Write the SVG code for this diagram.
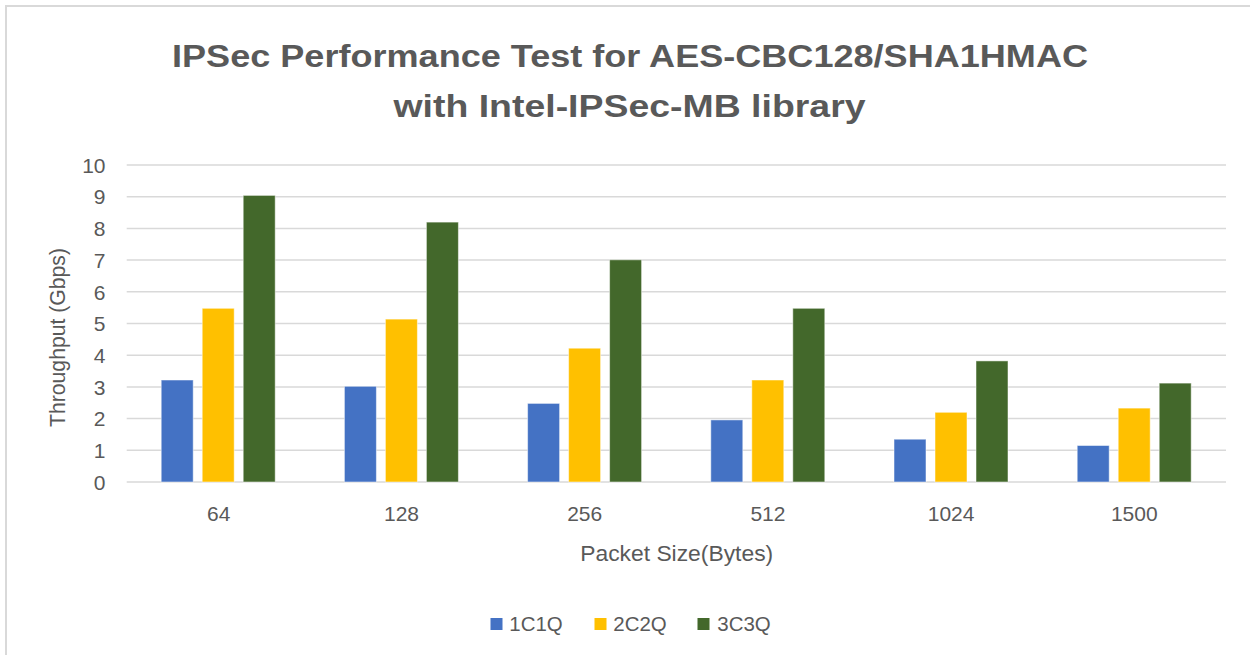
<svg xmlns="http://www.w3.org/2000/svg" width="1250" height="655" viewBox="0 0 1250 655">
<style>
.t{font-family:"Liberation Sans",Arial,sans-serif;fill:#595959}
.title{font-size:32px;font-weight:bold;text-anchor:middle}
.tick{font-size:21px;text-anchor:end}
.cat{font-size:21px;text-anchor:middle}
.ax{font-size:22px;text-anchor:middle}
.leg{font-size:20px}
.grid line{stroke:#d9d9d9;stroke-width:1.5}
.b1{fill:#4472C4;stroke:#ffffff;stroke-width:1;stroke-opacity:0.5}
.b2{fill:#FFC000;stroke:#ffffff;stroke-width:1;stroke-opacity:0.5}
.b3{fill:#43682B;stroke:#ffffff;stroke-width:1;stroke-opacity:0.5}
</style>
<rect x="0" y="0" width="1250" height="655" fill="#ffffff"/>
<rect x="6" y="6" width="1260" height="670" fill="#ffffff" stroke="#d9d9d9" stroke-width="2"/>
<g id="title">
<text class="t title" x="630" y="67" textLength="916" lengthAdjust="spacingAndGlyphs">IPSec Performance Test for AES-CBC128/SHA1HMAC</text>
<text class="t title" x="629.5" y="117" textLength="472" lengthAdjust="spacingAndGlyphs">with Intel-IPSec-MB library</text>
</g>
<g id="grid" class="grid">
<line x1="126.7" y1="165" x2="1226" y2="165"/>
<line x1="126.7" y1="196.7" x2="1226" y2="196.7"/>
<line x1="126.7" y1="228.4" x2="1226" y2="228.4"/>
<line x1="126.7" y1="260.1" x2="1226" y2="260.1"/>
<line x1="126.7" y1="291.8" x2="1226" y2="291.8"/>
<line x1="126.7" y1="323.5" x2="1226" y2="323.5"/>
<line x1="126.7" y1="355.2" x2="1226" y2="355.2"/>
<line x1="126.7" y1="386.9" x2="1226" y2="386.9"/>
<line x1="126.7" y1="418.6" x2="1226" y2="418.6"/>
<line x1="126.7" y1="450.3" x2="1226" y2="450.3"/>
<line x1="126.7" y1="482" x2="1226" y2="482"/>
</g>
<g id="yticks">
<text class="t tick" x="105.5" y="172.7">10</text>
<text class="t tick" x="105.5" y="204.4">9</text>
<text class="t tick" x="105.5" y="236.1">8</text>
<text class="t tick" x="105.5" y="267.8">7</text>
<text class="t tick" x="105.5" y="299.5">6</text>
<text class="t tick" x="105.5" y="331.2">5</text>
<text class="t tick" x="105.5" y="362.9">4</text>
<text class="t tick" x="105.5" y="394.6">3</text>
<text class="t tick" x="105.5" y="426.3">2</text>
<text class="t tick" x="105.5" y="458">1</text>
<text class="t tick" x="105.5" y="489.7">0</text>
</g>
<g id="series-1C1Q">
<rect class="b1" x="161.2" y="380" width="32" height="102"/>
<rect class="b1" x="344.4" y="386.3" width="32" height="95.7"/>
<rect class="b1" x="527.6" y="403.4" width="32" height="78.6"/>
<rect class="b1" x="710.8" y="419.9" width="32" height="62.1"/>
<rect class="b1" x="894" y="439.2" width="32" height="42.8"/>
<rect class="b1" x="1077.2" y="445.5" width="32" height="36.5"/>
</g>
<g id="series-2C2Q">
<rect class="b2" x="202.2" y="308.3" width="32" height="173.7"/>
<rect class="b2" x="385.4" y="319.1" width="32" height="162.9"/>
<rect class="b2" x="568.6" y="348.2" width="32" height="133.8"/>
<rect class="b2" x="751.8" y="380" width="32" height="102"/>
<rect class="b2" x="935" y="412.3" width="32" height="69.7"/>
<rect class="b2" x="1118.2" y="408.1" width="32" height="73.9"/>
</g>
<g id="series-3C3Q">
<rect class="b3" x="243.2" y="195.4" width="32" height="286.6"/>
<rect class="b3" x="426.4" y="222.1" width="32" height="259.9"/>
<rect class="b3" x="609.6" y="259.8" width="32" height="222.2"/>
<rect class="b3" x="792.8" y="308.3" width="32" height="173.7"/>
<rect class="b3" x="976" y="360.9" width="32" height="121.1"/>
<rect class="b3" x="1159.2" y="383.1" width="32" height="98.9"/>
</g>
<g id="xticks">
<text class="t cat" x="218.8" y="521">64</text>
<text class="t cat" x="401.5" y="521">128</text>
<text class="t cat" x="584.7" y="521">256</text>
<text class="t cat" x="767.9" y="521">512</text>
<text class="t cat" x="951.1" y="521">1024</text>
<text class="t cat" x="1134.3" y="521">1500</text>
</g>
<g id="axis-titles">
<text class="t ax" x="676.7" y="561" textLength="193" lengthAdjust="spacingAndGlyphs">Packet Size(Bytes)</text>
<text class="t ax" transform="translate(65,337.5) rotate(-90)" x="0" y="0" textLength="179" lengthAdjust="spacingAndGlyphs">Throughput (Gbps)</text>
</g>
<g id="legend">
<rect x="490.5" y="618" width="12" height="12" fill="#4472C4"/>
<text class="t leg" x="509.3" y="630.7" textLength="53.4" lengthAdjust="spacingAndGlyphs">1C1Q</text>
<rect x="594.5" y="618" width="12" height="12" fill="#FFC000"/>
<text class="t leg" x="613.3" y="630.7" textLength="53.4" lengthAdjust="spacingAndGlyphs">2C2Q</text>
<rect x="697.5" y="618" width="12" height="12" fill="#43682B"/>
<text class="t leg" x="717.3" y="630.7" textLength="53.4" lengthAdjust="spacingAndGlyphs">3C3Q</text>
</g>
</svg>
